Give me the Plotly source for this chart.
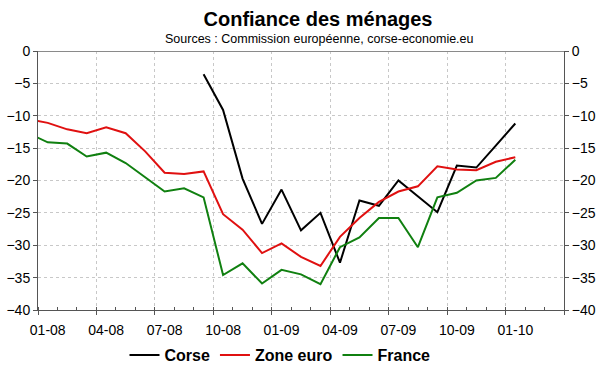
import plotly.graph_objects as go

# Months of the data (Dec 2007 .. Jan 2010)
months = ["12-07", "01-08", "02-08", "03-08", "04-08", "05-08", "06-08", "07-08", "08-08",
          "09-08", "10-08", "11-08", "12-08", "01-09", "02-09", "03-09", "04-09", "05-09",
          "06-09", "07-09", "08-09", "09-09", "10-09", "11-09", "12-09", "01-10"]
# Axis categories (Dec 2007 .. Mar 2010); the first one lies half outside the plot
axis_months = months + ["02-10", "03-10"]
tick_labels = ["01-08", "04-08", "07-08", "10-08", "01-09", "04-09", "07-09", "10-09", "01-10"]

corse = [None, None, None, None, None, None, None, None, None,
         -3.6, -9.1, -19.7, -26.7, -21.4, -27.7, -25.0, -32.7, -23.1,
         -23.9, -20.0, -22.4, -24.9, -17.7, -18.0, -14.6, -11.2]
zone_euro = [-10.5, -11.1, -12.1, -12.7, -11.8, -12.7, -15.5, -18.8, -19.0,
             -18.6, -25.2, -27.6, -31.2, -29.7, -31.8, -33.2, -28.7, -25.8,
             -23.3, -21.7, -20.9, -17.8, -18.3, -18.4, -17.1, -16.4]
france = [-12.7, -14.1, -14.3, -16.3, -15.7, -17.3, -19.5, -21.7, -21.2,
          -22.6, -34.6, -32.8, -35.9, -33.8, -34.5, -36.0, -30.3, -28.8,
          -25.8, -25.8, -30.3, -22.6, -21.9, -20.0, -19.6, -16.8]

FONT = "Liberation Sans, Arial, sans-serif"
AXIS = "#555555"
GRID = "#c8c8c8"

n_cat = len(axis_months)
x_range = [0.5, n_cat - 0.5]
quarter_bounds = [k - 0.5 for k in range(1, n_cat + 1, 3)]
y_range = [-40, 0]

fig = go.Figure()
# empty helper trace so that the overlay axes (grid/ticks, right labels) are drawn
fig.add_trace(go.Scatter(x=[None], y=[None], xaxis="x2", yaxis="y2", mode="lines",
                         showlegend=False, hoverinfo="skip"))
fig.add_trace(go.Scatter(x=months, y=corse, name="Corse", mode="lines",
                         line=dict(color="#000000", width=2), connectgaps=False))
fig.add_trace(go.Scatter(x=months, y=zone_euro, name="Zone euro", mode="lines",
                         line=dict(color="#e01010", width=2)))
fig.add_trace(go.Scatter(x=months, y=france, name="France", mode="lines",
                         line=dict(color="#108010", width=2)))

fig.update_layout(
    width=600, height=372,
    margin=dict(l=38, r=36, t=51, b=62, autoexpand=False),
    paper_bgcolor="white", plot_bgcolor="white",
    font=dict(family=FONT, size=14, color="#000000"),
    title=dict(text="<b>Confiance des ménages</b>", x=318 / 600, xanchor="center",
               y=1 - 19 / 372, yanchor="middle",
               font=dict(family=FONT, size=20, color="#000000")),
    showlegend=True,
    legend=dict(orientation="h", x=(280 - 38) / 526, xanchor="center",
                y=-45 / 259, yanchor="middle",
                font=dict(family=FONT, size=16, color="#000000", weight="bold"),
                bgcolor="rgba(0,0,0,0)", itemwidth=30, tracegroupgap=0),
    xaxis=dict(type="category", categoryorder="array", categoryarray=axis_months,
               range=x_range, tickmode="array", tickvals=tick_labels, ticktext=tick_labels,
               ticks="", showgrid=False, zeroline=False, ticklabelstandoff=7,
               automargin=False,
               showline=True, linecolor=AXIS, linewidth=1,
               tickfont=dict(family=FONT, size=14, color="#000000")),
    xaxis2=dict(overlaying="x", anchor="y2", side="bottom", type="linear",
                range=x_range, tickmode="array", tickvals=quarter_bounds,
                showticklabels=False, ticks="outside", ticklen=4, tickcolor=AXIS,
                showgrid=True, gridcolor=GRID, griddash="dot", gridwidth=1,
                zeroline=False, showline=False, automargin=False,
                minor=dict(tick0=0.5, dtick=1, ticks="inside", ticklen=3,
                           tickcolor=AXIS, showgrid=False)),
    yaxis=dict(range=y_range, dtick=5, tick0=0, ticks="outside", ticklen=4, tickcolor=AXIS,
               showgrid=True, gridcolor=GRID, griddash="dot", gridwidth=1,
               zeroline=True, zerolinecolor="#8a8a8a", zerolinewidth=1,
               showline=True, linecolor=AXIS, linewidth=1, automargin=False,
               tickfont=dict(family=FONT, size=14, color="#000000")),
    yaxis2=dict(overlaying="y", side="right", anchor="x2", range=y_range, dtick=5, tick0=0,
                ticks="outside", ticklen=4, tickcolor=AXIS, showgrid=False, zeroline=False,
                showline=True, linecolor=AXIS, linewidth=1, automargin=False,
                tickfont=dict(family=FONT, size=14, color="#000000")),
    annotations=[dict(text="Sources : Commission européenne, corse-economie.eu",
                      xref="paper", yref="paper", x=(319 - 38) / 526, y=(310 - 39) / 259,
                      xanchor="center", yanchor="middle", showarrow=False,
                      font=dict(family=FONT, size=12.5, color="#000000"))],
)

fig.write_html("out.html", config={"displayModeBar": False},
               post_script="document.body.style.margin='0';document.body.style.overflow='hidden';")
